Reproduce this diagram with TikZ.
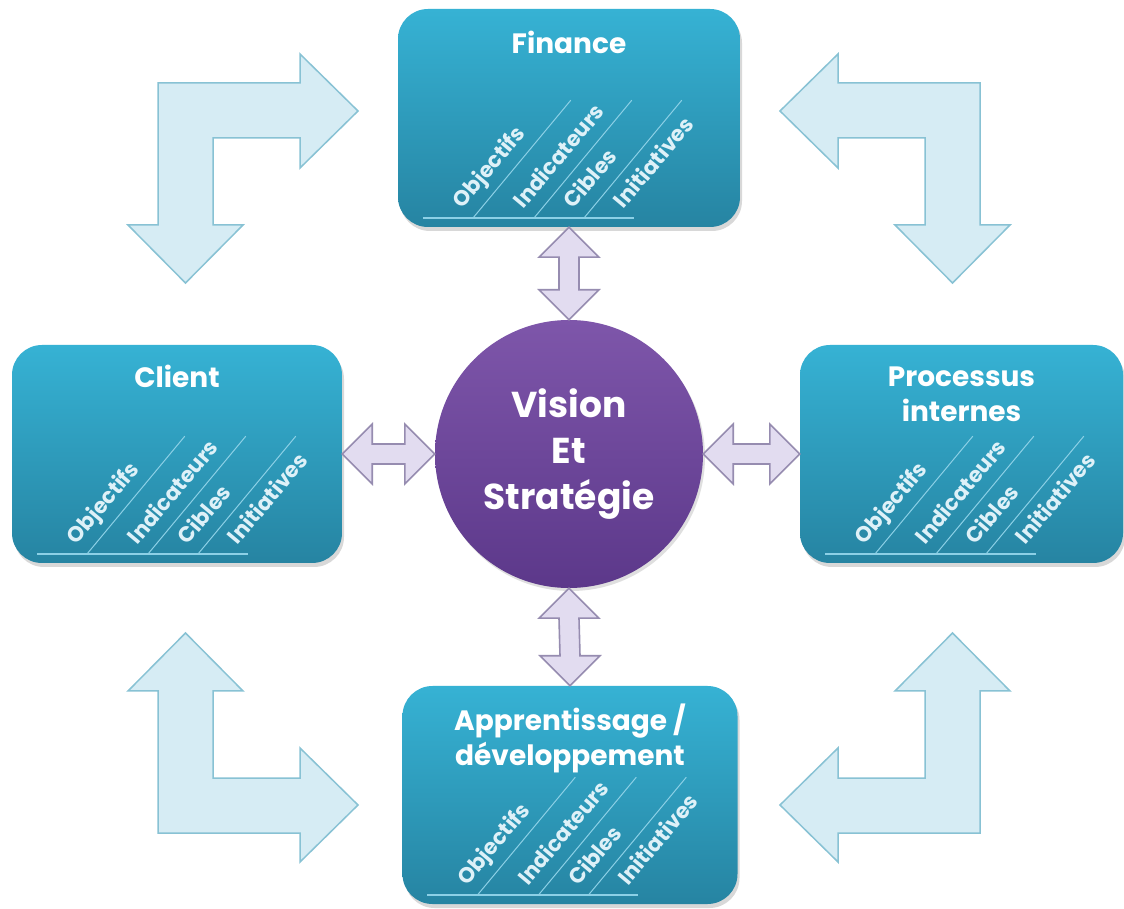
\documentclass[tikz,border=0pt]{standalone}
\usepackage{fontspec}
\setmainfont{Poppins}
\usetikzlibrary{positioning,calc,shadows}
\definecolor{boxtop}{RGB}{54,178,212}
\definecolor{boxbot}{RGB}{38,132,162}
\definecolor{vistop}{RGB}{126,86,170}
\definecolor{visbot}{RGB}{92,56,138}
\definecolor{bentfill}{RGB}{214,236,244}
\definecolor{bentdraw}{RGB}{136,194,212}
\definecolor{dblfill}{RGB}{226,220,240}
\definecolor{dbldraw}{RGB}{150,140,176}
\definecolor{kpitext}{RGB}{222,241,248}
\definecolor{kpiline}{RGB}{140,208,230}

\begin{document}
\begin{tikzpicture}[x=1pt, y=1pt,
  persp/.style={rounded corners=30pt, top color=boxtop, bottom color=boxbot, draw=none,
    minimum width=#1, minimum height=218pt, inner sep=0pt,
    drop shadow={opacity=0.3, shadow xshift=2pt, shadow yshift=-4pt}},
  ttl/.style={font=\fontsize{28pt}{35pt}\selectfont\bfseries, text=white, align=center, inner sep=0pt},
  vision/.style={circle, minimum size=268pt, inner sep=0pt, top color=vistop, bottom color=visbot,
    text=white, align=center, font=\fontsize{36pt}{46pt}\selectfont\bfseries,
    drop shadow={opacity=0.25, shadow xshift=2pt, shadow yshift=-3pt}},
  kpi/.style={font=\fontsize{21.5pt}{26pt}\selectfont\bfseries, text=kpitext, rotate=50, anchor=base west, inner sep=0pt},
  baseln/.style={kpiline, line width=2pt},
  divider/.style={kpiline, line width=1pt},
  bent/.style={draw=bentdraw, fill=bentfill, line width=1.5pt, line join=miter},
  dblarr/.style={draw=dbldraw, fill=dblfill, line width=1.6pt, line join=miter},
  vdbl/.style={to path={-- ++(-30,-30) -- ++(20,0) -- ($(\tikztotarget)+(-10,30)$) -- ++(-20,0) -- (\tikztotarget)
      -- ++(30,30) -- ++(-20,0) -- ($(\tikztostart)+(10,-30)$) -- ++(20,0) -- cycle}},
  hdbl/.style={to path={-- ++(30,30) -- ++(0,-20) -- ($(\tikztotarget)+(-30,10)$) -- ++(0,20) -- (\tikztotarget)
      -- ++(-30,-30) -- ++(0,20) -- ($(\tikztostart)+(30,-10)$) -- ++(0,-20) -- cycle}},
]
\path[use as bounding box, fill=white] (0,0) rectangle (1124,908);

% ============ bent arrows in the corners ============
\foreach \sx/\sy in {1/1,-1/1,1/-1,-1/-1}
  \draw[bent, shift={(569,450)}, xscale=\sx, yscale=\sy]
    (-411,375) -- (-269,375) -- (-269,404) -- (-211,347) -- (-269,290) -- (-269,320)
    -- (-356,320) -- (-356,233) -- (-326,233) -- (-383.5,175) -- (-441,233) -- (-411,233) -- cycle;

% ============ perspectives ============
\node[persp=342pt] (fin) at (569,790) {};
\node[persp=330pt] (cli) at (177,454) {};
\node[persp=323pt] (pro) at (961.5,454) {};
\node[persp=335pt] (app) at (570,113) {};
\node[vision] (vis) at (569,454) {Vision\\Et\\Stratégie};

\node[ttl, below=22pt of fin.north] (fin-t) {Finance};
\node[ttl, below=20pt of cli.north] (cli-t) {Client};
\node[ttl, below=22pt of pro.north] (pro-t) {Processus\\internes};
\node[ttl, below=18pt of app.north] (app-t) {Apprentissage /\\développement};

% objectives / indicators / targets / initiatives
\foreach \bx in {fin,cli,pro,app} {
  \coordinate (\bx-o) at ($(\bx.south west)+(25,9)$);
  \draw[baseln] (\bx-o) -- ++(211,0);
  \foreach \d in {50,111,161}
    \draw[divider] ($(\bx-o)+(\d,0)$) -- ++(98,118);
  \foreach \d/\t [count=\k] in {50/Objectifs,111/Indicateurs,161/Cibles,211/Initiatives}
    \node[kpi] (\bx-\k) at ($(\bx-o)+(\d,0)+(140:13)$) {\t};
}

% ============ links to the centre ============
\draw[dblarr] (fin.south) to[vdbl] (vis.north);
\draw[dblarr] (vis.south) to[vdbl] (app.north);
\draw[dblarr] (cli.east) to[hdbl] (vis.west);
\draw[dblarr] (vis.east) to[hdbl] (pro.west);
\end{tikzpicture}
\end{document}
